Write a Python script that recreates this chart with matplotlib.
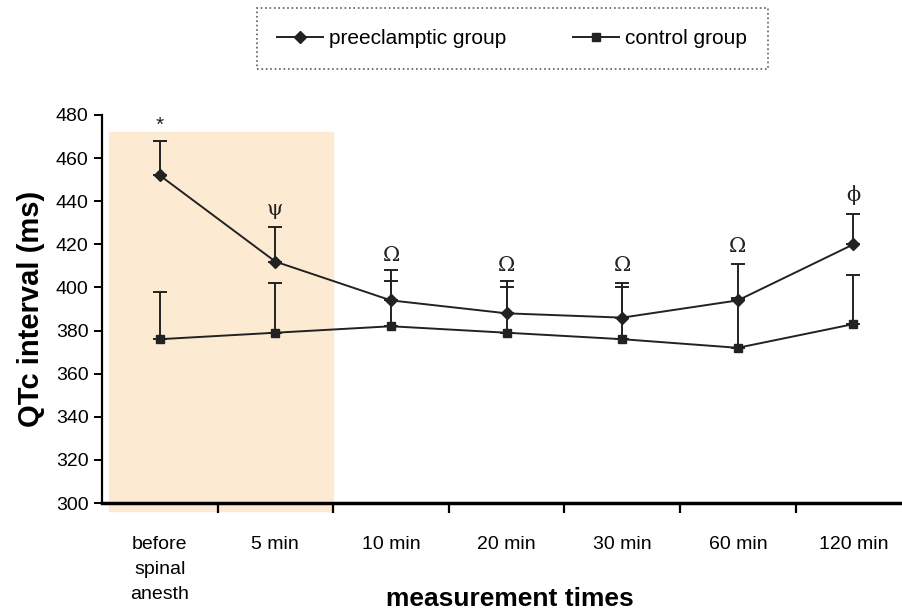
import numpy as np
import matplotlib.pyplot as plt
from matplotlib.lines import Line2D

# data
times = ["before\nspinal\nanesth", "5 min", "10 min", "20 min", "30 min", "60 min", "120 min"]
pre_mean = [452, 412, 394, 388, 386, 394, 420]
pre_upper = [468, 428, 408, 403, 402, 411, 434]
ctl_mean = [376, 379, 382, 379, 376, 372, 383]
ctl_upper = [398, 402, 403, 400, 400, 395, 406]
marks = ["*", "\u03c8", "\u03a9", "\u03a9", "\u03a9", "\u03a9", "\u03d5"]
mark_y = [475, 436, 415, 410, 410, 419, 443]

plt.rcParams['font.family'] = ['Liberation Sans Narrow', 'Liberation Sans', 'DejaVu Sans']

fig = plt.figure(figsize=(9.02, 6.13), dpi=100)
ax = fig.add_axes([0.113, 0.1794, 0.887, 0.633])

x = np.arange(len(times))

# shaded "before / 5 min" zone
ax.axvspan(-0.44, 1.5, ymin=-0.02, ymax=(472 - 300) / 180.0, color='#fcebd2', zorder=0, clip_on=False)

pre_err = [np.zeros(len(x)), np.array(pre_upper) - np.array(pre_mean)]
ctl_err = [np.zeros(len(x)), np.array(ctl_upper) - np.array(ctl_mean)]

ax.errorbar(x, pre_mean, yerr=pre_err, color='#222222', marker='D', markersize=6,
            lw=1.4, capsize=5, elinewidth=1.4, capthick=1.4, label='preeclamptic group', zorder=3)
ax.errorbar(x, ctl_mean, yerr=ctl_err, color='#222222', marker='s', markersize=6,
            lw=1.4, capsize=5, elinewidth=1.4, capthick=1.4, label='control group', zorder=3)

for xi, m, my in zip(x, marks, mark_y):
    ax.text(xi, my, m, ha='center', va='center', fontsize=15,
            family=['DejaVu Serif'] if m != "*" else ['Liberation Sans'], color='#222222')

ax.set_xlim(-0.5, 6.42)
ax.set_ylim(300, 480)
ax.set_yticks(np.arange(300, 481, 20))
ax.set_xticks(x)
ax.set_xticklabels(times, fontsize=14, va='top', linespacing=1.6)
ax.set_xticks(np.arange(0.5, 6, 1), minor=True)
ax.tick_params(axis='x', which='major', length=0, pad=24)
ax.tick_params(axis='x', which='minor', length=7, width=1.6, direction='out')
ax.tick_params(axis='y', labelsize=14, length=6, width=1.4, direction='out')

for s in ['top', 'right']:
    ax.spines[s].set_visible(False)
ax.spines['bottom'].set_linewidth(2.5)
ax.spines['left'].set_linewidth(1.6)

ax.set_ylabel("QTc interval (ms)", fontsize=21, fontweight='bold', family=['Liberation Sans', 'DejaVu Sans'], labelpad=8)
fig.text(0.565, 0.012, "measurement times", fontsize=19, fontweight='bold',
         family=['Liberation Sans', 'DejaVu Sans'], ha='center')

h1 = Line2D([], [], color='#222222', marker='D', markersize=6, lw=1.4)
h2 = Line2D([], [], color='#222222', marker='s', markersize=6, lw=1.4)
leg = fig.legend([h1, h2], ["preeclamptic group", "control group"], loc='center',
                 bbox_to_anchor=(0.568, 0.937), ncol=2, fontsize=15, frameon=True,
                 fancybox=False, edgecolor='#333333', borderpad=1.0, columnspacing=3.2,
                 handlelength=2.2, handletextpad=0.3)
leg.get_frame().set_linestyle(':')
leg.get_frame().set_linewidth(1.2)

fig.savefig("out.png", dpi=100)
